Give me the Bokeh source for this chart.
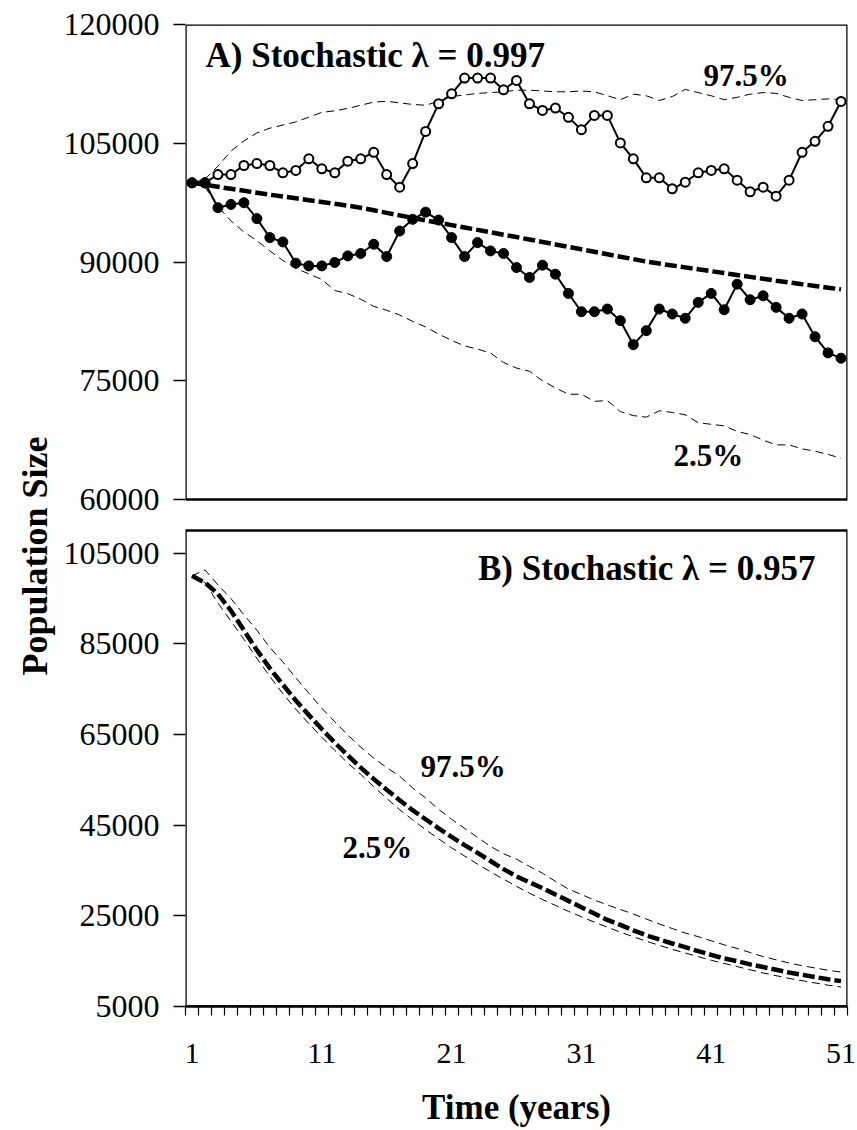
import math
from bokeh.plotting import figure
from bokeh.models import Range1d, FixedTicker, BoxAnnotation, Label
from bokeh.embed import file_html
from bokeh.resources import INLINE

# ---------------- data ----------------
years = list(range(1, 52))

# Panel A (stochastic lambda = 0.997)
a_run_filled = [100000, 100000, 96860, 97270, 97490, 95480, 93080, 92530, 89850, 89510,
                89510, 89940, 90770, 91070, 92240, 90690, 93910, 95390, 96300, 95300,
                93080, 90690, 92450, 91400, 91070, 89300, 88050, 89600, 88460, 86030,
                83720, 83720, 84060, 82590, 79560, 81330, 84060, 83430, 82890, 84900,
                86030, 83970, 87200, 85230, 85730, 84270, 82890, 83430, 80560, 78520,
                77850]
a_run_open = [100000, 100000, 101050, 101050, 102190, 102440, 102190, 101270, 101560, 103030,
              101770, 101270, 102730, 103030, 103860, 101050, 99450, 102440, 106500, 109990,
              111250, 113230, 113230, 113230, 111750, 112930, 109990, 109150, 109450, 108270,
              106720, 108520, 108520, 105040, 103030, 100630, 100630, 99250, 100080, 101270,
              101560, 101770, 100340, 98870, 99450, 98320, 100340, 103860, 105250, 107140,
              110280]
a_mean = [100000, 99750, 99500, 99250, 99000, 98750, 98500, 98270, 98040, 97810,
          97580, 97350, 97120, 96850, 96530, 96210, 95890, 95570, 95260, 94960,
          94660, 94360, 94060, 93760, 93450, 93150, 92840, 92530, 92220, 91910,
          91600, 91290, 90980, 90670, 90360, 90050, 89800, 89560, 89320, 89080,
          88840, 88600, 88360, 88120, 87880, 87640, 87420, 87200, 86980, 86760,
          86540]
a_upper = [100000, 100500, 102100, 104000, 105300, 106300, 106900, 107300, 107700, 108300,
           108900, 109100, 109400, 109800, 110200, 110300, 110100, 109900, 109800, 110300,
           110900, 111100, 111300, 111400, 111500, 111700, 111700, 111600, 111500, 111500,
           111600, 111500, 111000, 110500, 111200, 111000, 110400, 110900, 111800, 111400,
           111000, 110500, 110800, 111200, 111400, 111300, 110800, 110400, 110500, 110600,
           110500]
a_lower = [100000, 99500, 97000, 95200, 93800, 92700, 91400, 90200, 89200, 88500,
           87800, 86400, 86000, 85300, 84400, 83900, 83300, 82500, 81800, 80900,
           80100, 79400, 79000, 78500, 77300, 76600, 76200, 75000, 74100, 73300,
           73300, 72400, 72500, 71100, 70600, 70400, 71200, 71000, 70700, 69700,
           69500, 69300, 68600, 68200, 67500, 66900, 66900, 66400, 66100, 65700,
           65200]

# Panel B (stochastic lambda = 0.957)
b_mean = [100000, 98500, 96000, 92300, 88000, 83600, 79600, 76000, 72500, 69300,
          66200, 63200, 60400, 57700, 55200, 52800, 50500, 48300, 46300, 44300,
          42400, 40600, 38900, 37100, 35300, 33700, 32400, 31100, 29700, 28300,
          26900, 25500, 24100, 23000, 21800, 20700, 19800, 18900, 18100, 17200,
          16400, 15600, 15000, 14300, 13700, 13100, 12500, 12000, 11500, 11000,
          10600]
b_upper = [100000, 101300, 98000, 95000, 91400, 88000, 84200, 81000, 77500, 74100,
           70800, 67800, 64900, 62200, 59800, 57700, 55800, 53200, 51000, 48500,
           46300, 44300, 42300, 40300, 38700, 37500, 35900, 34400, 32600, 30900,
           29700, 28500, 27400, 26400, 25400, 24300, 23200, 22200, 21200, 20400,
           19500, 18600, 17800, 16900, 16000, 15300, 14600, 14000, 13500, 13000,
           12600]
b_lower = [100000, 98500, 94000, 90000, 86000, 81800, 77800, 74000, 70600, 67400,
           64400, 61500, 58700, 56200, 53500, 50900, 48400, 46200, 44000, 42000,
           40000, 38200, 36400, 34700, 33100, 31500, 30000, 28600, 27300, 26000,
           24800, 23600, 22500, 21400, 20400, 19400, 18500, 17600, 16800, 16000,
           15200, 14500, 13800, 13100, 12400, 11800, 11200, 10700, 10200, 9700,
           9300]

a_ticks = [60000, 75000, 90000, 105000, 120000]
b_ticks = [5000, 25000, 45000, 65000, 85000, 105000]
x_label_ticks = [1, 11, 21, 31, 41, 51]

# ---------------- layout constants ----------------
W, H = 857, 1130
FL, FR, FT, FB = 185, 847, 24, 1006      # frame edges (px)
A_TOP, A_BOT = 24, 499                   # panel A pixel extent
B_TOP, B_BOT = 530, 1006                 # panel B pixel extent
A_MIN, A_MAX = 60000, 120000
B_MIN, B_MAX = 5000, 110000
X_MIN, X_MAX = 0.5, 51.5

a_pp = (A_MAX - A_MIN) / (A_BOT - A_TOP)
y_lo = A_MAX - (FB - A_TOP) * a_pp
y_hi = A_MAX - (FT - A_TOP) * a_pp
b_pp = (B_MAX - B_MIN) / (B_BOT - B_TOP)
b_lo = B_MIN - (FB - B_BOT) * b_pp
b_hi = B_MAX + (B_TOP - FT) * b_pp
x_pp = (X_MAX - X_MIN) / (FR - FL)


def ya(px):  # primary-range value at canvas pixel row
    return A_MAX - (px - A_TOP) * a_pp


def yb(px):
    return B_MAX - (px - B_TOP) * b_pp


def xd(px):
    return X_MIN + (px - FL) * x_pp


SERIF = "Liberation Serif"

p = figure(width=W, height=H, x_range=Range1d(X_MIN, X_MAX), y_range=Range1d(y_lo, y_hi),
           output_backend="svg", toolbar_location=None,
           min_border_left=FL, min_border_right=W - FR, min_border_top=FT,
           min_border_bottom=H - FB,
           title="Population Size", title_location="left")
p.extra_y_ranges = {"b": Range1d(b_lo, b_hi)}
p.outline_line_color = None
p.grid.visible = False
p.background_fill_color = "white"
p.border_fill_color = "white"

# y title, placed along the left side starting above the frame bottom
p.title.align = "left"
p.title.offset = 1006 - 675
p.title.text_font = SERIF
p.title.text_font_style = "bold"
p.title.text_font_size = "36px"
p.title.text_color = "black"
p.title.standoff = 12

# ---- y axis (single axis carrying both panels' ticks) ----
tick_pos = list(a_ticks)
overrides = {t: str(t) for t in a_ticks}
for v in b_ticks:
    pos = int(round(y_lo + (v - b_lo) / (b_hi - b_lo) * (y_hi - y_lo)))
    tick_pos.append(pos)
    overrides[pos] = str(v)
ya_ax = p.yaxis[0]
ya_ax.ticker = FixedTicker(ticks=tick_pos)
ya_ax.major_label_overrides = overrides
ya_ax.axis_line_color = None
ya_ax.major_tick_out = 12
ya_ax.major_tick_in = 0
ya_ax.minor_tick_out = 0
ya_ax.minor_tick_in = 0
ya_ax.major_tick_line_width = 1.5
ya_ax.major_label_text_font = SERIF
ya_ax.major_label_text_font_size = "32px"
ya_ax.major_label_text_color = "black"
ya_ax.major_label_standoff = 14

# ---- x axis ----
xa = p.xaxis[0]
xa.ticker = FixedTicker(ticks=x_label_ticks, minor_ticks=[y - 0.5 for y in years] + [years[-1] + 0.5])
xa.axis_line_width = 2.5
xa.axis_line_color = "black"
xa.major_tick_out = 0
xa.major_tick_in = 0
xa.minor_tick_out = 9
xa.minor_tick_in = 0
xa.minor_tick_line_width = 1.2
xa.minor_tick_line_color = "black"
xa.major_label_text_font = SERIF
xa.major_label_text_font_size = "30px"
xa.major_label_text_color = "black"
xa.major_label_standoff = 28
xa.axis_label = "Time (years)"
xa.axis_label_text_font = SERIF
xa.axis_label_text_font_style = "bold"
xa.axis_label_text_font_size = "35px"
xa.axis_label_text_color = "black"
xa.axis_label_standoff = 22

# ---- panel frames ----
p.add_layout(BoxAnnotation(left=X_MIN, right=X_MAX, bottom=A_MIN, top=A_MAX,
                           fill_color=None, fill_alpha=0, line_color="black",
                           line_alpha=1.0, line_width=2.5))
p.add_layout(BoxAnnotation(left=X_MIN, right=X_MAX, bottom=B_MIN, top=B_MAX, y_range_name="b",
                           fill_color=None, fill_alpha=0, line_color="black",
                           line_alpha=1.0, line_width=2.5))

# ---- panel A ----
p.line(years, a_upper, line_color="black", line_width=1, line_dash="8 5")
p.line(years, a_lower, line_color="black", line_width=1, line_dash="8 5")
p.line(years, a_mean, line_color="black", line_width=4.5, line_dash="12 4")
p.line(years, a_run_open, line_color="black", line_width=2)
p.scatter(years, a_run_open, size=9, fill_color="white", line_color="black", line_width=2)
p.line(years, a_run_filled, line_color="black", line_width=2)
p.scatter(years, a_run_filled, size=10, fill_color="black", line_color="black")

# ---- panel B ----
p.line(years, b_upper, y_range_name="b", line_color="black", line_width=1, line_dash="8 5")
p.line(years, b_lower, y_range_name="b", line_color="black", line_width=1, line_dash="8 5")
p.line(years, b_mean, y_range_name="b", line_color="black", line_width=4.5, line_dash="12 4")

# ---- texts ----
def lab(x, y, text, size, align="left", rng="default"):
    p.add_layout(Label(x=x, y=y, text=text, y_range_name=rng, text_font=SERIF,
                       text_font_style="bold", text_font_size=size,
                       text_align=align, text_baseline="alphabetic", text_color="black"))

lab(xd(205), ya(55), "A) Stochastic \u03bb = 0.997", "35px")
lab(xd(703), ya(75), "97.5%", "31px")
lab(xd(673), ya(455), "2.5%", "31px")
lab(xd(815), yb(568), "B) Stochastic \u03bb = 0.957", "35px", align="right", rng="b")
lab(xd(420), yb(766), "97.5%", "31px", rng="b")
lab(xd(342), yb(847), "2.5%", "31px", rng="b")

open("out.html", "w").write(file_html(p, INLINE))
